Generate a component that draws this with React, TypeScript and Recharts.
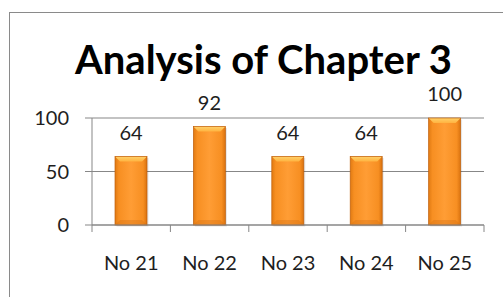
import React from 'react';
import { BarChart, Bar, XAxis, YAxis, CartesianGrid, LabelList } from 'recharts';

const CATEGORIES = ['No 21', 'No 22', 'No 23', 'No 24', 'No 25'];
const SCORES = [64, 92, 64, 64, 100];
const Y_TICKS = [0, 50, 100];

const data = CATEGORIES.map((name, i) => ({ name, score: SCORES[i] }));

const W = 503;
const H = 297;
const MARGIN = { top: 118, right: 19, bottom: 0, left: 0 };
const Y_AXIS_W = 92;
const PLOT_W = W - MARGIN.left - MARGIN.right - Y_AXIS_W;
const BAND = PLOT_W / CATEGORIES.length;
const AXIS_GREY = '#878787';
const FONT = 'Lato, "Liberation Sans", sans-serif';

function BevelBar(props: any) {
  const { x, y, width, height } = props;
  if (!height || height <= 0) return null;
  const b = 5;
  return (
    <g>
      <rect x={x + 1.5} y={y + 1.5} width={width} height={height} fill="#000" opacity={0.1} />
      <rect x={x} y={y} width={width} height={height} fill="url(#barBody)" />
      <polygon
        points={`${x},${y} ${x + width},${y} ${x + width - b},${y + b} ${x + b},${y + b}`}
        fill="url(#barTop)"
      />
      <polygon
        points={`${x},${y + height} ${x + width},${y + height} ${x + width - b},${y + height - b} ${x + b},${y + height - b}`}
        fill="#d06c12"
        opacity={0.35}
      />
      <rect x={x} y={y} width={width} height={height} fill="none" stroke="#c0600c" strokeWidth={0.7} />
    </g>
  );
}

function CategoryTick(props: any) {
  const { x, y, payload, index } = props;
  const half = BAND / 2;
  return (
    <g>
      <line x1={x - half} y1={y - 7} x2={x - half} y2={y} stroke={AXIS_GREY} />
      {index === CATEGORIES.length - 1 && (
        <line x1={x + half} y1={y - 7} x2={x + half} y2={y} stroke={AXIS_GREY} />
      )}
      <text x={x} y={y + 38} textAnchor="middle" fill="#1e1e1e" fontSize={20} fontFamily={FONT}>
        {payload.value}
      </text>
    </g>
  );
}

export default function App() {
  return (
    <div style={{ position: 'absolute', left: 0, top: 0, width: W, height: H, overflow: 'hidden', background: '#fff' }}>
      <div
        style={{
          position: 'absolute',
          left: 9,
          top: 12,
          width: 700,
          height: 500,
          borderLeft: '1.5px solid #8a8a8a',
          borderTop: '1.5px solid #8a8a8a',
        }}
      />
      <div
        style={{
          position: 'absolute',
          left: 0,
          top: 39,
          width: 527,
          textAlign: 'center',
          fontFamily: FONT,
          fontWeight: 'bold',
          fontSize: 40,
          lineHeight: '40px',
          color: '#000',
        }}
      >
        Analysis of Chapter 3
      </div>
      <div style={{ position: 'absolute', left: 0, top: 0 }}>
        <BarChart width={W} height={H} data={data} margin={MARGIN} barCategoryGap="0%">
          <defs>
            <linearGradient id="barBody" x1="0" y1="0" x2="1" y2="0">
              <stop offset="0%" stopColor="#e07a12" />
              <stop offset="12%" stopColor="#f78f22" />
              <stop offset="50%" stopColor="#ff9d35" />
              <stop offset="88%" stopColor="#f78f22" />
              <stop offset="100%" stopColor="#d9720f" />
            </linearGradient>
            <linearGradient id="barTop" x1="0" y1="0" x2="0" y2="1">
              <stop offset="0%" stopColor="#ffd16a" />
              <stop offset="100%" stopColor="#ffb340" />
            </linearGradient>
          </defs>
          <CartesianGrid vertical={false} stroke={AXIS_GREY} />
          <XAxis
            dataKey="name"
            height={72}
            tickLine={false}
            tickSize={7}
            tickMargin={0}
            axisLine={{ stroke: AXIS_GREY }}
            tick={<CategoryTick />}
            interval={0}
          />
          <YAxis
            width={Y_AXIS_W}
            domain={[0, 100]}
            ticks={Y_TICKS}
            tickSize={7}
            tickMargin={16}
            axisLine={{ stroke: AXIS_GREY }}
            tickLine={{ stroke: AXIS_GREY }}
            tick={{ fill: '#1e1e1e', fontSize: 20, fontFamily: FONT }}
          />
          <Bar dataKey="score" barSize={32} shape={<BevelBar />} isAnimationActive={false}>
            <LabelList
              dataKey="score"
              position="top"
              offset={17}
              fill="#1e1e1e"
              fontSize={20}
              fontFamily={FONT}
            />
          </Bar>
        </BarChart>
      </div>
    </div>
  );
}
